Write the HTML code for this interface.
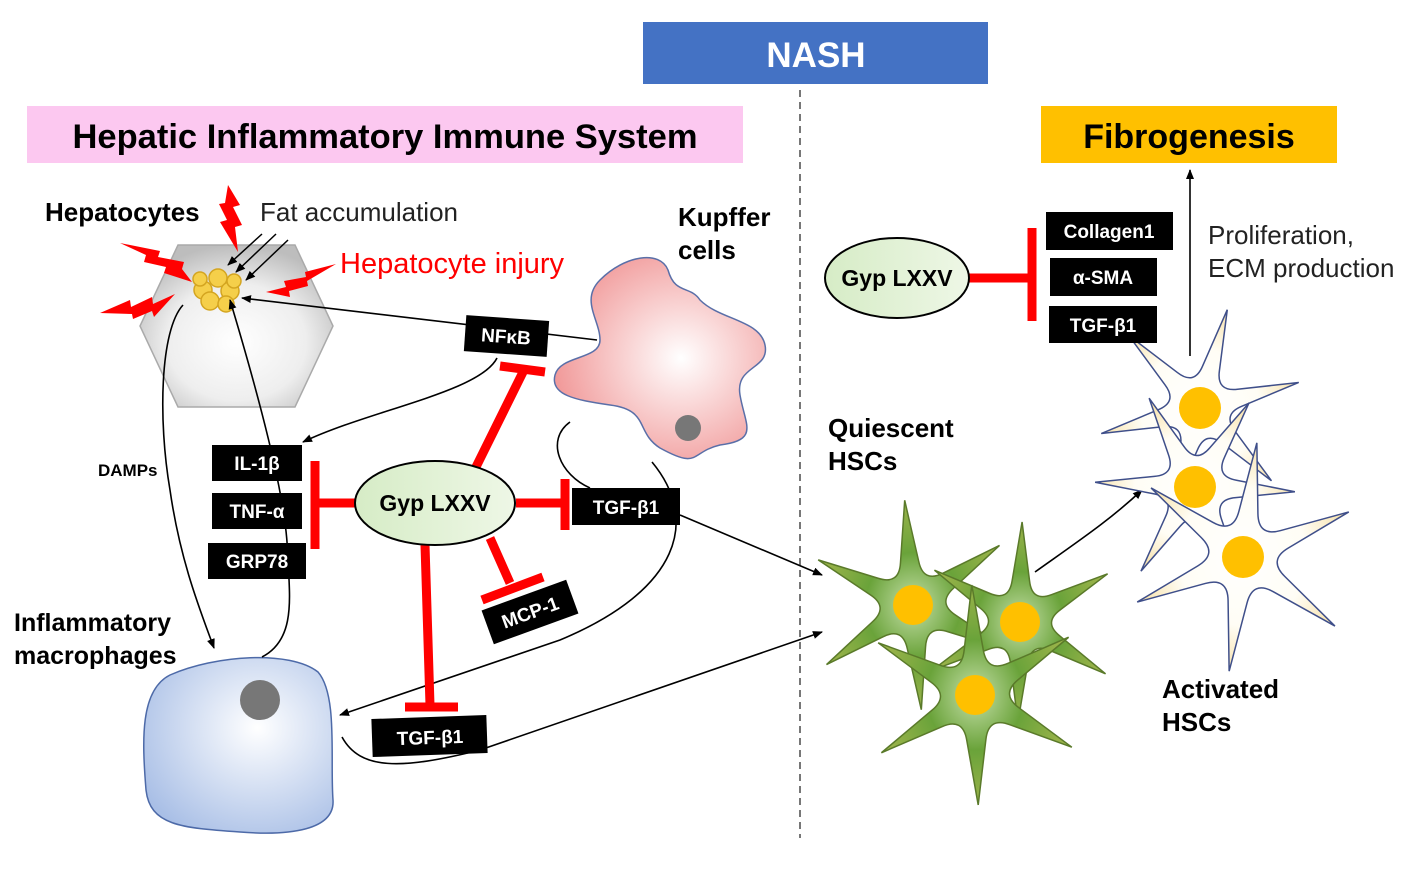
<!DOCTYPE html>
<html><head><meta charset="utf-8"><style>
body{margin:0;background:#fff}
svg{display:block}
text{font-family:"Liberation Sans",Arial,sans-serif}
.b{font-weight:bold}
.bx{fill:#000}
.bt{fill:#fff;font-weight:bold;font-size:19px;text-anchor:middle}
.red{stroke:#f00;stroke-width:9;fill:none}
.ar{stroke:#000;stroke-width:1.6;fill:none;marker-end:url(#ah)}
</style></head><body>
<svg id="s" width="1421" height="874" viewBox="0 0 1421 874" xmlns="http://www.w3.org/2000/svg">
<defs>
<marker id="ah" markerWidth="10" markerHeight="10" refX="9" refY="5" orient="auto" markerUnits="userSpaceOnUse"><path d="M0,1 L10,5 L0,9 z" fill="#000"/></marker>
<radialGradient id="hex" cx="0.5" cy="0.6" r="0.6"><stop offset="0" stop-color="#fff"/><stop offset="0.6" stop-color="#eee"/><stop offset="1" stop-color="#bdbdbd"/></radialGradient>
<radialGradient id="kup" cx="0.6" cy="0.5" r="0.6"><stop offset="0" stop-color="#fff"/><stop offset="1" stop-color="#f19a9a"/></radialGradient>
<radialGradient id="mac" cx="0.6" cy="0.4" r="0.7"><stop offset="0" stop-color="#fff"/><stop offset="1" stop-color="#a9bfe6"/></radialGradient>
<radialGradient id="grn" cx="0.5" cy="0.5" r="0.5"><stop offset="0" stop-color="#c5dfa8"/><stop offset="0.5" stop-color="#6aa33a"/><stop offset="1" stop-color="#9bb34a"/></radialGradient>
<radialGradient id="ylw" cx="0.5" cy="0.5" r="0.5"><stop offset="0" stop-color="#fff"/><stop offset="0.6" stop-color="#fffdf5"/><stop offset="1" stop-color="#f8e4b0"/></radialGradient>
<linearGradient id="ell" x1="0" x2="1"><stop offset="0" stop-color="#d6ecc6"/><stop offset="1" stop-color="#eef7e6"/></linearGradient>
</defs>

<rect x="643" y="22" width="345" height="62" fill="#4472c4"/>
<text x="816" y="67" class="b" font-size="35" fill="#fff" text-anchor="middle">NASH</text>
<line x1="800" y1="90" x2="800" y2="838" stroke="#777" stroke-width="2" stroke-dasharray="7,5"/>
<rect x="27" y="106" width="716" height="57" fill="#fcc8f0"/>
<text x="385" y="148" class="b" font-size="34.5" text-anchor="middle">Hepatic Inflammatory Immune System</text>
<rect x="1041" y="106" width="296" height="57" fill="#ffc000"/>
<text x="1189" y="148" class="b" font-size="34" text-anchor="middle">Fibrogenesis</text>

<polygon points="178,245 295,245 333,326 295,407 178,407 140,326" fill="url(#hex)" stroke="#aaa" stroke-width="1.5"/>
<g fill="#f5cf4a" stroke="#d4a520" stroke-width="1.5">
<circle cx="203" cy="290" r="9"/><circle cx="218" cy="278" r="9"/><circle cx="230" cy="291" r="9"/><circle cx="210" cy="301" r="9"/><circle cx="226" cy="304" r="8"/><circle cx="200" cy="279" r="7"/><circle cx="234" cy="281" r="7"/>
</g>
<g fill="#f00">
<polygon points="228,185 240,205 233,207 242,225 235,227 238,252 220,222 227,220 219,204 225,203"/>
<polygon points="120,243 160,251 158,257 184,262 182,269 192,282 164,273 166,267 144,262 146,255"/>
<polygon points="100,313 130,300 131,307 152,297 153,304 175,294 154,317 152,311 133,319 132,314"/>
<polygon points="336,264 305,272 306,277 284,281 286,287 266,292 290,297 289,291 308,286 307,281"/>
</g>
<g stroke="#000" stroke-width="1.5" marker-end="url(#ah)">
<line x1="262" y1="234" x2="228" y2="265"/><line x1="276" y1="234" x2="236" y2="272"/><line x1="288" y1="240" x2="246" y2="280"/>
</g>
<text x="45" y="221" class="b" font-size="26">Hepatocytes</text>
<text x="260" y="221" font-size="26" fill="#222">Fat accumulation</text>
<text x="340" y="273" font-size="29" fill="#f00">Hepatocyte injury</text>

<path d="M600,280 C625,255 660,250 668,270 C675,295 690,285 700,300 C720,320 760,320 765,345 C770,370 735,365 740,395 C745,425 760,440 720,445 C690,452 700,470 660,448 C635,432 650,410 610,405 C575,400 550,395 555,375 C560,355 600,360 600,340 C600,320 580,300 600,280 Z" fill="url(#kup)" stroke="#5a6fa8" stroke-width="1.5"/>
<circle cx="688" cy="428" r="13" fill="#777"/>
<text x="678" y="226" class="b" font-size="26">Kupffer</text>
<text x="678" y="259" class="b" font-size="26">cells</text>

<path d="M170,675 C215,655 290,650 318,672 C338,695 330,760 333,800 C335,830 290,836 240,832 C180,828 150,825 146,790 C142,740 140,690 170,675 Z" fill="url(#mac)" stroke="#4d6aa8" stroke-width="1.5"/>
<circle cx="260" cy="700" r="20" fill="#777"/>
<text x="14" y="631" class="b" font-size="25">Inflammatory</text>
<text x="14" y="664" class="b" font-size="25">macrophages</text>
<text x="98" y="476" class="b" font-size="17">DAMPs</text>

<path class="ar" d="M597,340 L242,298"/>
<path class="ar" d="M497,358 C480,392 370,410 303,442"/>
<path class="ar" d="M183,305 C160,330 158,420 170,490 C180,560 200,610 214,648"/>
<path class="ar" d="M262,657 C295,640 290,600 288,560 C287,530 284,480 230,300"/>
<path class="ar" d="M570,422 C545,440 560,475 590,488 M680,515 L822,575"/>
<path class="ar" d="M652,462 C700,520 680,590 560,640 L340,715"/>
<path class="ar" d="M342,737 C360,770 400,770 480,750 L822,632"/>
<path class="ar" d="M1035,572 C1080,540 1110,520 1142,490"/>
<path class="ar" d="M1190,356 L1190,170"/>

<g transform="rotate(4 506 336)"><rect class="bx" x="465" y="318" width="83" height="36"/><text class="bt" x="506" y="343">NFκB</text></g>
<rect class="bx" x="212" y="445" width="90" height="36"/><text class="bt" x="257" y="470">IL-1β</text>
<rect class="bx" x="212" y="493" width="90" height="36"/><text class="bt" x="257" y="518">TNF-α</text>
<rect class="bx" x="208" y="543" width="98" height="36"/><text class="bt" x="257" y="568">GRP78</text>
<rect class="bx" x="572" y="488" width="108" height="37"/><text class="bt" x="626" y="514">TGF-β1</text>
<g transform="rotate(-20 530 612)"><rect class="bx" x="485" y="594" width="90" height="36"/><text class="bt" x="530" y="619">MCP-1</text></g>
<g transform="rotate(-2 430 736)"><rect class="bx" x="372" y="717" width="115" height="38"/><text class="bt" x="430" y="744">TGF-β1</text></g>

<path class="red" d="M357,503 L315,503 M315,461 L315,549"/>
<path class="red" d="M516,503 L565,503 M565,479 L565,530"/>
<path class="red" d="M476,467 L524,370 M500,366 L545,372"/>
<path class="red" d="M490,538 L510,583 M482,600 L543,577"/>
<path class="red" d="M425,545 L430,705 M405,707 L458,707"/>

<ellipse cx="435" cy="503" rx="80" ry="42" fill="url(#ell)" stroke="#000" stroke-width="2"/>
<text x="435" y="511" class="b" font-size="23" text-anchor="middle">Gyp LXXV</text>

<g id="stars"></g>

<path class="red" d="M968,278 L1032,278 M1032,228 L1032,321"/>
<ellipse cx="897" cy="278" rx="72" ry="40" fill="url(#ell)" stroke="#000" stroke-width="2"/>
<text x="897" y="286" class="b" font-size="23" text-anchor="middle">Gyp LXXV</text>
<rect class="bx" x="1046" y="212" width="127" height="38"/><text class="bt" x="1109" y="238">Collagen1</text>
<rect class="bx" x="1050" y="258" width="107" height="38"/><text class="bt" x="1103" y="284">α-SMA</text>
<rect class="bx" x="1049" y="306" width="108" height="37"/><text class="bt" x="1103" y="332">TGF-β1</text>
<text x="1208" y="244" font-size="26" fill="#222">Proliferation,</text>
<text x="1208" y="277" font-size="26" fill="#222">ECM production</text>
<text x="828" y="437" class="b" font-size="26">Quiescent</text>
<text x="828" y="470" class="b" font-size="26">HSCs</text>
<text x="1162" y="698" class="b" font-size="26">Activated</text>
<text x="1162" y="731" class="b" font-size="26">HSCs</text>
</svg>
<script>
function star(cx,cy,R,r,n,rot,fill){
  var s=Math.PI*2/n,d="";
  for(var i=0;i<n;i++){
    var a=rot+i*s, v=a+s/2;
    var tx=cx+R*Math.cos(a),ty=cy+R*Math.sin(a);
    var p1x=cx+r*Math.cos(v-s*0.3),p1y=cy+r*Math.sin(v-s*0.3);
    var cxq=cx+r*0.55*Math.cos(v),cyq=cy+r*0.55*Math.sin(v);
    var p2x=cx+r*Math.cos(v+s*0.3),p2y=cy+r*Math.sin(v+s*0.3);
    var b0x=cx+r*Math.cos(a-s*0.2),b0y=cy+r*Math.sin(a-s*0.2);
    if(i==0) d+="M"+b0x+","+b0y;
    d+=" L"+tx+","+ty+" L"+p1x+","+p1y+" Q"+cxq+","+cyq+" "+p2x+","+p2y;
  }
  d+="Z";
  var g=document.getElementById("stars");
  var p=document.createElementNS("http://www.w3.org/2000/svg","path");
  p.setAttribute("d",d);p.setAttribute("fill",fill);
  p.setAttribute("stroke",fill=="url(#grn)"?"#5a7a2a":"#3f4f8a");p.setAttribute("stroke-width","1.5");
  g.appendChild(p);
  var c=document.createElementNS("http://www.w3.org/2000/svg","circle");
  c.setAttribute("cx",cx);c.setAttribute("cy",cy);c.setAttribute("r",fill=="url(#grn)"?20:21);c.setAttribute("fill","#ffc000");
  g.appendChild(c);
}
star(1200,408,102,42,6,-1.3,"url(#ylw)");
star(1195,487,100,42,6,-1.0,"url(#ylw)");
star(1243,557,115,46,6,-1.45,"url(#ylw)");
star(913,605,105,44,6,-1.65,"url(#grn)");
star(1020,622,100,42,6,-1.55,"url(#grn)");
star(975,695,110,46,6,-1.6,"url(#grn)");
</script>
</body></html>
